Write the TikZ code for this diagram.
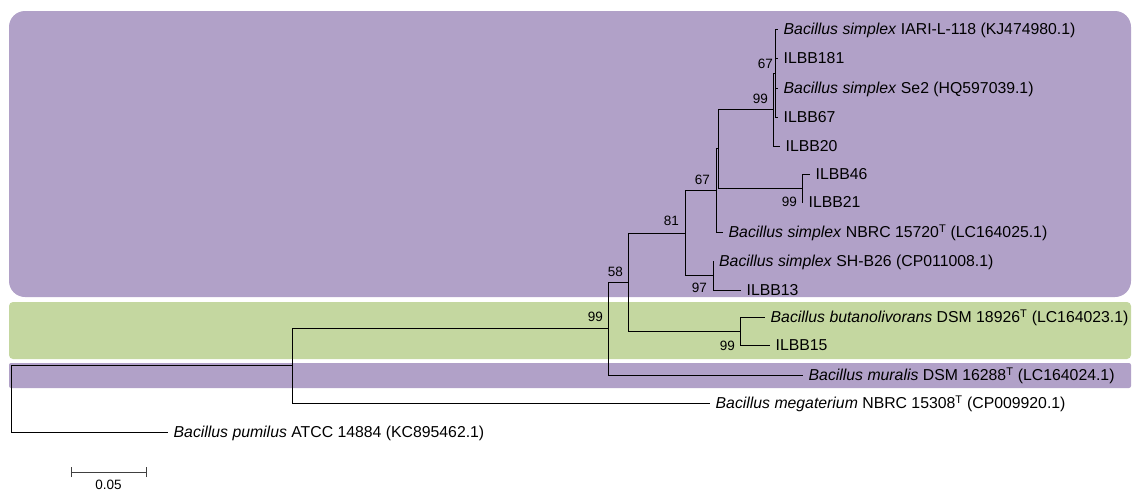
\documentclass[tikz,border=0pt]{standalone}
\usepackage{fontspec}
\setmainfont{Liberation Sans}
\definecolor{clpurple}{RGB}{177,161,200}
\definecolor{clgreen}{RGB}{196,215,160}
\begin{document}
\begin{tikzpicture}[x=1pt,y=-1pt,
  leaf/.style={anchor=west,inner xsep=5.5pt,inner ysep=0pt,text height=11.3pt,text depth=0pt,font=\fontsize{15.8}{18}\selectfont},
  boot/.style={anchor=east,inner sep=0pt,text height=9.7pt,text depth=0pt,font=\fontsize{13.5}{15}\selectfont},
  br/.style={line width=1pt,black},
  scalebar/.style={line width=1pt,black!75}]
\useasboundingbox (0,0) rectangle (1133,491);
% background bands
\fill[clpurple, rounded corners=16pt] (9,11) rectangle (1131,297);
\fill[clgreen, rounded corners=4pt] (9,302) rectangle (1131,359);
\fill[clpurple, rounded corners=2pt] (9,363) rectangle (1131,388);
% leaves
\node[leaf] (l1) at (778,29) {\textit{Bacillus simplex} IARI-L-118 (KJ474980.1)};
\node[leaf] (l2) at (778,58) {ILBB181};
\node[leaf] (l3) at (778,88) {\textit{Bacillus simplex} Se2 (HQ597039.1)};
\node[leaf] (l4) at (778,117) {ILBB67};
\node[leaf] (l5) at (780,146) {ILBB20};
\node[leaf] (l6) at (810,174) {ILBB46};
\node[leaf] (l7) at (803,202) {ILBB21};
\node[leaf] (l8) at (723,232) {\textit{Bacillus simplex} NBRC 15720\textsuperscript{T} (LC164025.1)};
\node[leaf] (l9) at (713.5,261) {\textit{Bacillus simplex} SH-B26 (CP011008.1)};
\node[leaf] (l10) at (741,290) {ILBB13};
\node[leaf] (l11) at (765,317) {\textit{Bacillus butanolivorans} DSM 18926\textsuperscript{T} (LC164023.1)};
\node[leaf] (l12) at (770,345) {ILBB15};
\node[leaf] (l13) at (803,375) {\textit{Bacillus muralis} DSM 16288\textsuperscript{T} (LC164024.1)};
\node[leaf] (l14) at (710,403) {\textit{Bacillus megaterium} NBRC 15308\textsuperscript{T} (CP009920.1)};
\node[leaf] (l15) at (168,432) {\textit{Bacillus pumilus} ATCC 14884 (KC895462.1)};
% internal nodes
\coordinate (G) at (775,73);
\coordinate (F) at (773.5,109.5);
\coordinate (H) at (802,188);
\coordinate (Z) at (718,148.75);
\coordinate (E) at (716,190.4);
\coordinate (S) at (713,275.5);
\coordinate (D) at (685,233);
\coordinate (K) at (740,331);
\coordinate (C) at (628,282);
\coordinate (B) at (608,328.5);
\coordinate (A) at (292,365.75);
\coordinate (R) at (11,399);
% branches
\draw[br] (G) |- (l1.west);
\draw[br] (G) |- (l2.west);
\draw[br] (G) |- (l3.west);
\draw[br] (G) |- (l4.west);
\draw[br] (F) |- (G);
\draw[br] (F) |- (l5.west);
\draw[br] (H) |- (l6.west);
\draw[br] (H) |- (l7.west);
\draw[br] (Z) |- (F);
\draw[br] (Z) |- (H);
\draw[br] (E) |- (Z);
\draw[br] (E) |- (l8.west);
\draw[br] (S) |- (l9.west);
\draw[br] (S) |- (l10.west);
\draw[br] (D) |- (E);
\draw[br] (D) |- (S);
\draw[br] (K) |- (l11.west);
\draw[br] (K) |- (l12.west);
\draw[br] (C) |- (D);
\draw[br] (C) |- (K);
\draw[br] (B) |- (C);
\draw[br] (B) |- (l13.west);
\draw[br] (A) |- (B);
\draw[br] (A) |- (l14.west);
\draw[br] (R) |- (A);
\draw[br] (R) |- (l15.west);
% bootstrap values
\node[boot] (bG) at (773,64) {67};
\node[boot] (bF) at (768,99) {99};
\node[boot] (bE) at (710,180) {67};
\node[boot] (bH) at (797,202) {99};
\node[boot] (bD) at (679,221) {81};
\node[boot] (bC) at (623,272) {58};
\node[boot] (bS) at (707,288) {97};
\node[boot] (bB) at (603,317) {99};
\node[boot] (bK) at (735,346) {99};
% scale bar
\coordinate (sb1) at (71,472);
\coordinate (sb2) at (146,472);
\draw[scalebar] (sb1) -- (sb2);
\draw[scalebar] ([yshift=-5pt]sb1) -- ([yshift=5pt]sb1);
\draw[scalebar] ([yshift=-5pt]sb2) -- ([yshift=5pt]sb2);
\node[boot, anchor=center] (sbl) at (108.5,484.5) {0.05};
\end{tikzpicture}
\end{document}
